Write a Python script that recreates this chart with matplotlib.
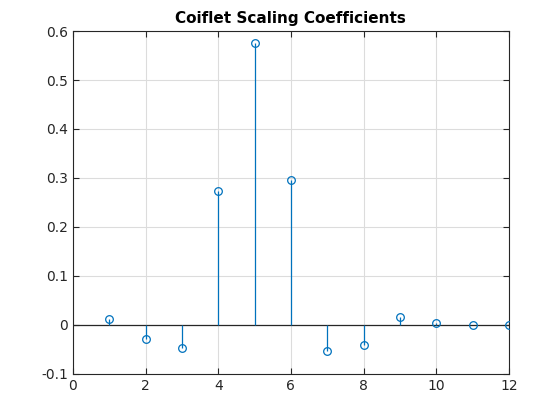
import matplotlib
matplotlib.use("Agg")
import matplotlib.pyplot as plt
import numpy as np

index = [1, 2, 3, 4, 5, 6, 7, 8, 9, 10, 11, 12]
coefs = [0.011587596739, -0.029320137980, -0.047639590310, 0.273021046535,
         0.574682393857, 0.294867193696, -0.054085607092, -0.042026480461,
         0.016744410163, 0.003967883613, -0.001289203356, -0.000509505399]
xticks = [0, 2, 4, 6, 8, 10, 12]
yticks = [-0.1, 0, 0.1, 0.2, 0.3, 0.4, 0.5, 0.6]
ytick_labels = ["-0.1", "0", "0.1", "0.2", "0.3", "0.4", "0.5", "0.6"]

blue = "#0072BD"
fig = plt.figure(figsize=(5.6, 4.2), dpi=100)
ax = fig.add_axes([0.13, 0.11, 0.779, 0.816])

ax.vlines(index, 0, coefs, color=blue, linewidth=0.9, zorder=3)
ax.plot(index, coefs, linestyle="none", marker="o", markersize=5.5,
        markerfacecolor="none", markeredgecolor=blue, markeredgewidth=0.9, zorder=4)
ax.axhline(0, color="#262626", linewidth=0.9, zorder=2)

ax.set_xlim(0, 12)
ax.set_ylim(-0.1, 0.6)
ax.set_xticks(xticks)
ax.set_yticks(yticks)
ax.set_yticklabels(ytick_labels)
ax.grid(True, color="#dcdcdc", linewidth=0.8)
ax.set_axisbelow(True)
ax.tick_params(direction="in", length=4, width=0.8, labelsize=10, colors="#262626",
               top=True, right=True)
for s in ax.spines.values():
    s.set_color("#262626")
    s.set_linewidth(0.8)
ax.set_title("Coiflet Scaling Coefficients", fontsize=11, fontweight="bold", pad=6)

fig.savefig("out.png", dpi=100)
